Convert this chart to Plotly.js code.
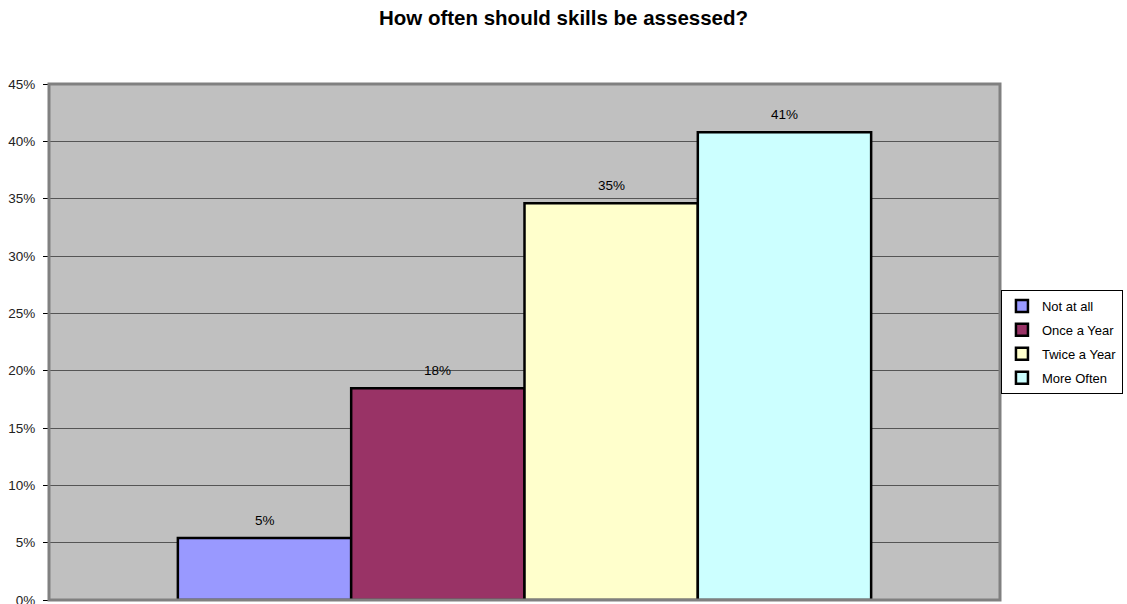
<!DOCTYPE html>
<html>
<head>
<meta charset="utf-8">
<script src="https://cdn.plot.ly/plotly-3.0.1.min.js"></script>
<style>html,body{margin:0;padding:0;background:#fff;}#chart{width:1127px;height:604px;}</style>
</head>
<body>
<div id="chart"></div>
<script>
const seriesNames = ["Not at all", "Once a Year", "Twice a Year", "More Often"];
const seriesValues = [0.054, 0.1846, 0.346, 0.408];
const seriesLabels = ["5%", "18%", "35%", "41%"];
const categories = [""];
const yTickValues = [0, 0.05, 0.10, 0.15, 0.20, 0.25, 0.30, 0.35, 0.40, 0.45];
const yTickLabels = ["0%", "5%", "10%", "15%", "20%", "25%", "30%", "35%", "40%", "45%"];
const colors = ["#9999FF", "#993366", "#FFFFCC", "#CCFFFF"];

const FONT = "Arial, Liberation Sans, sans-serif";
const bargap = 0.271;
const nSeries = seriesNames.length;
const barW = (1 - bargap) / nSeries;

const traces = seriesNames.map((name, i) => ({
  type: "bar",
  name: name,
  legendgroup: "g" + i,
  x: categories,
  y: [seriesValues[i]],
  marker: {color: colors[i], line: {color: "#000000", width: 2.5}},
  hoverinfo: "none"
}));

const annotations = seriesValues.map((v, i) => ({
  x: -(1 - bargap) / 2 + barW * (i + 0.5),
  xref: "x",
  y: v,
  yref: "y",
  text: seriesLabels[i],
  showarrow: false,
  yanchor: "middle",
  xanchor: "center",
  yshift: 18,
  font: {family: FONT, size: 13.5, color: "#000"}
}));

const layout = {
  width: 1127,
  height: 604,
  margin: {l: 49, r: 124, t: 84, b: 4, pad: 0},
  paper_bgcolor: "#ffffff",
  plot_bgcolor: "#C0C0C0",
  font: {family: FONT, size: 13.5, color: "#000"},
  title: {
    text: "<b>How often should skills be assessed?</b>",
    font: {family: FONT, size: 20.5, color: "#000"},
    x: 0.5, xref: "container", y: 1 - 18 / 604, yref: "container", xanchor: "center", yanchor: "middle"
  },
  barmode: "group",
  bargap: bargap,
  bargroupgap: 0,
  showlegend: true,
  legend: {
    x: 1.001, y: 0.6008, xanchor: "left", yanchor: "top",
    xref: "paper", yref: "paper",
    bordercolor: "#000", borderwidth: 1, bgcolor: "#fff",
    font: {family: FONT, size: 13, color: "#000"},
    itemwidth: 30, tracegroupgap: 4, traceorder: "grouped"
  },
  xaxis: {
    type: "category",
    showticklabels: false,
    ticks: "",
    showgrid: false,
    zeroline: false,
    showline: false,
    automargin: false,
    fixedrange: true
  },
  yaxis: {
    range: [0, 0.45],
    tickvals: yTickValues,
    ticktext: yTickLabels,
    ticks: "outside", ticklen: 5, tickcolor: "#000", tickwidth: 1,
    ticklabelstandoff: 5,
    ticklabeloverflow: "allow",
    showgrid: true, gridcolor: "#555555", gridwidth: 1,
    zeroline: false,
    showline: false,
    tickfont: {family: FONT, size: 13.5, color: "#222"},
    automargin: false,
    fixedrange: true
  },
  annotations: annotations,
  shapes: [{
    type: "rect", xref: "paper", yref: "paper", x0: 0, x1: 1, y0: 0, y1: 1,
    line: {color: "#808080", width: 3}, layer: "above"
  }]
};

Plotly.newPlot("chart", traces, layout, {displayModeBar: false, staticPlot: true});
</script>
</body>
</html>
